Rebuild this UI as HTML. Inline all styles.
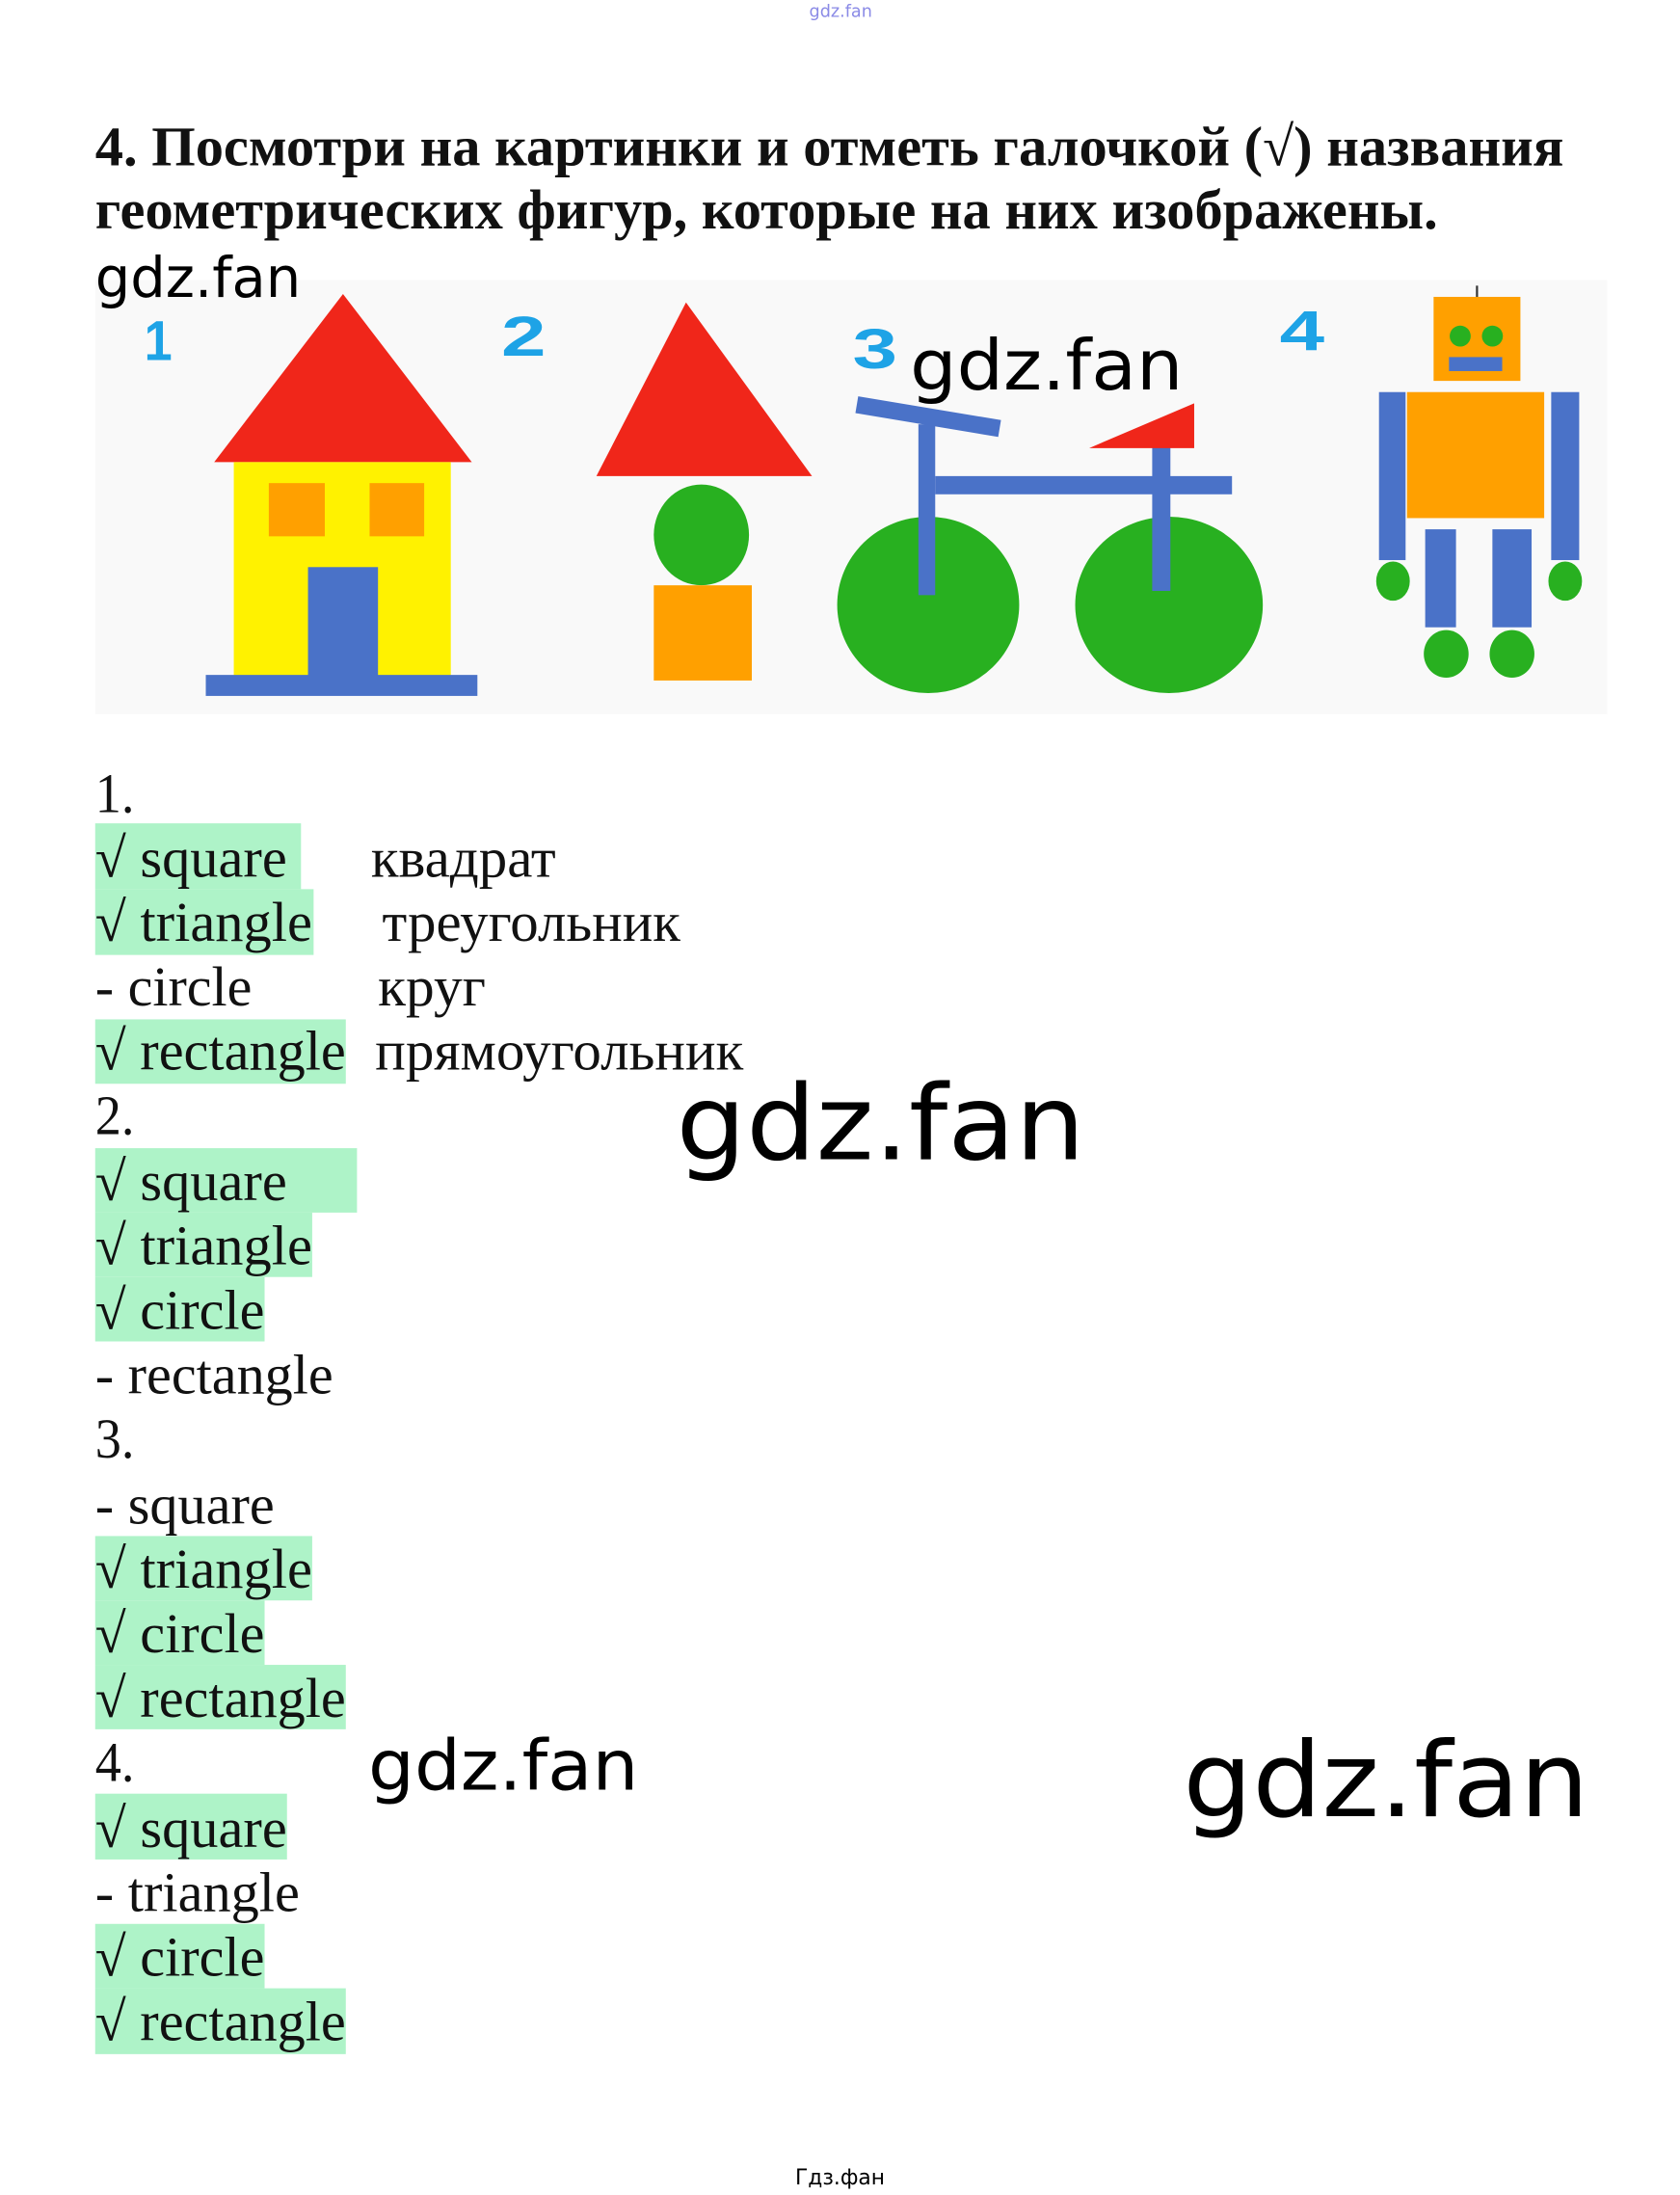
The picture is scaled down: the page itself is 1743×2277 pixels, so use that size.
<!DOCTYPE html>
<html><head><meta charset="utf-8"><style>
html,body{margin:0;padding:0;background:#fff;width:1743px;height:2277px;overflow:hidden}
svg{display:block}
.h{font-family:"Liberation Serif","Noto Serif CJK SC",serif;font-weight:bold;font-size:40px;fill:#111}
.t{font-family:"Liberation Serif","Noto Serif CJK SC",serif;font-size:40px;fill:#111}
.w{font-family:"DejaVu Sans","Liberation Sans",sans-serif;fill:#000}
.n{font-family:"Liberation Sans",sans-serif;font-weight:bold;font-size:40px;fill:#1ea3e6}
</style></head><body>
<svg width="1743" height="2277" viewBox="0 0 1200 1567.6" xmlns="http://www.w3.org/2000/svg">
<text x="578" y="12" class="w" font-size="12" fill="#8a8ae6" style="fill:#8a8ae6" textLength="45" lengthAdjust="spacingAndGlyphs">gdz.fan</text>
<text x="68" y="118" class="h" textLength="1049" lengthAdjust="spacingAndGlyphs">4. Посмотри на картинки и отметь галочкой (√) названия</text>
<text x="68" y="163" class="h" textLength="959" lengthAdjust="spacingAndGlyphs">геометрических фигур, которые на них изображены.</text>

<rect x="68" y="200" width="1080" height="310" fill="#f9f9f9"/>
<!-- house -->
<polygon points="245,210 153,330 337,330" fill="#f0261a"/>
<rect x="167" y="330" width="155" height="153" fill="#fff200"/>
<rect x="192" y="345" width="40" height="38" fill="#ffa000"/>
<rect x="264" y="345" width="39" height="38" fill="#ffa000"/>
<rect x="220" y="405" width="50" height="78" fill="#4a72c8"/>
<rect x="147" y="482" width="194" height="15" fill="#4a72c8"/>
<text x="103" y="257" class="n" textLength="20" lengthAdjust="spacingAndGlyphs">1</text>
<!-- fig 2 -->
<polygon points="490,216 426,340 580,340" fill="#f0261a"/>
<ellipse cx="501" cy="382" rx="34" ry="36" fill="#28b020"/>
<rect x="467" y="418" width="70" height="68" fill="#ffa000"/>
<text x="358" y="254" class="n" textLength="32" lengthAdjust="spacingAndGlyphs">2</text>
<!-- bike -->
<ellipse cx="663" cy="432" rx="65" ry="63" fill="#28b020"/>
<ellipse cx="835" cy="432" rx="67" ry="63" fill="#28b020"/>
<polygon points="613,283 715,300 713,312 611,295" fill="#4a72c8"/>
<rect x="656" y="303" width="12" height="122" fill="#4a72c8"/>
<rect x="668" y="340" width="212" height="13" fill="#4a72c8"/>
<rect x="823" y="318" width="13" height="104" fill="#4a72c8"/>
<polygon points="778,320 853,288 853,320" fill="#f0261a"/>
<text x="609" y="263" class="n" textLength="32" lengthAdjust="spacingAndGlyphs">3</text>
<!-- robot -->
<text x="914" y="250" class="n" textLength="32" lengthAdjust="spacingAndGlyphs">4</text>
<line x1="1055" y1="204" x2="1055" y2="213" stroke="#333" stroke-width="1.5"/>
<rect x="1024" y="212" width="62" height="60" fill="#ffa000"/>
<circle cx="1043" cy="240" r="7.5" fill="#28b020"/>
<circle cx="1066" cy="240" r="7.5" fill="#28b020"/>
<rect x="1035" y="255" width="38" height="10" fill="#4a72c8"/>
<rect x="1005" y="280" width="98" height="90" fill="#ffa000"/>
<rect x="985" y="280" width="19" height="120" fill="#4a72c8"/>
<rect x="1108" y="280" width="20" height="120" fill="#4a72c8"/>
<ellipse cx="995" cy="415" rx="12" ry="14" fill="#28b020"/>
<ellipse cx="1118" cy="415" rx="12" ry="14" fill="#28b020"/>
<rect x="1018" y="378" width="22" height="70" fill="#4a72c8"/>
<rect x="1066" y="378" width="28" height="70" fill="#4a72c8"/>
<ellipse cx="1033" cy="467" rx="16" ry="17" fill="#28b020"/>
<ellipse cx="1080" cy="467" rx="16" ry="17" fill="#28b020"/>

<text x="68" y="212" class="w" font-size="40" textLength="147" lengthAdjust="spacingAndGlyphs">gdz.fan</text>
<text x="650" y="278" class="w" font-size="50" textLength="195" lengthAdjust="spacingAndGlyphs">gdz.fan</text>

<!-- highlights -->
<g fill="#aef3c8">
<rect x="68" y="588" width="147" height="47"/>
<rect x="68" y="635" width="156" height="47"/>
<rect x="68" y="728" width="179" height="46"/>
<rect x="68" y="820" width="187" height="46"/>
<rect x="68" y="866" width="155" height="46"/>
<rect x="68" y="912" width="121" height="46"/>
<rect x="68" y="1097" width="155" height="46"/>
<rect x="68" y="1143" width="121" height="46"/>
<rect x="68" y="1189" width="179" height="46"/>
<rect x="68" y="1281" width="137" height="47"/>
<rect x="68" y="1374" width="121" height="46"/>
<rect x="68" y="1420" width="179" height="47"/>
</g>
<g class="t">
<text x="68" y="580" textLength="28" lengthAdjust="spacingAndGlyphs">1.</text>
<text x="68" y="626" textLength="137" lengthAdjust="spacingAndGlyphs">√ square</text>
<text x="68" y="672" textLength="155" lengthAdjust="spacingAndGlyphs">√ triangle</text>
<text x="68" y="718" textLength="112" lengthAdjust="spacingAndGlyphs">- circle</text>
<text x="68" y="764" textLength="179" lengthAdjust="spacingAndGlyphs">√ rectangle</text>
<text x="265" y="626" textLength="132" lengthAdjust="spacingAndGlyphs">квадрат</text>
<text x="273" y="672" textLength="213" lengthAdjust="spacingAndGlyphs">треугольник</text>
<text x="270" y="718" textLength="77" lengthAdjust="spacingAndGlyphs">круг</text>
<text x="268" y="764" textLength="263" lengthAdjust="spacingAndGlyphs">прямоугольник</text>
<text x="68" y="810" textLength="28" lengthAdjust="spacingAndGlyphs">2.</text>
<text x="68" y="857" textLength="137" lengthAdjust="spacingAndGlyphs">√ square</text>
<text x="68" y="903" textLength="155" lengthAdjust="spacingAndGlyphs">√ triangle</text>
<text x="68" y="949" textLength="121" lengthAdjust="spacingAndGlyphs">√ circle</text>
<text x="68" y="995" textLength="170" lengthAdjust="spacingAndGlyphs">- rectangle</text>
<text x="68" y="1041" textLength="28" lengthAdjust="spacingAndGlyphs">3.</text>
<text x="68" y="1088" textLength="128" lengthAdjust="spacingAndGlyphs">- square</text>
<text x="68" y="1134" textLength="155" lengthAdjust="spacingAndGlyphs">√ triangle</text>
<text x="68" y="1180" textLength="121" lengthAdjust="spacingAndGlyphs">√ circle</text>
<text x="68" y="1226" textLength="179" lengthAdjust="spacingAndGlyphs">√ rectangle</text>
<text x="68" y="1272" textLength="28" lengthAdjust="spacingAndGlyphs">4.</text>
<text x="68" y="1319" textLength="137" lengthAdjust="spacingAndGlyphs">√ square</text>
<text x="68" y="1365" textLength="146" lengthAdjust="spacingAndGlyphs">- triangle</text>
<text x="68" y="1411" textLength="121" lengthAdjust="spacingAndGlyphs">√ circle</text>
<text x="68" y="1457" textLength="179" lengthAdjust="spacingAndGlyphs">√ rectangle</text>
</g>

<text x="483" y="828" class="w" font-size="74" textLength="292" lengthAdjust="spacingAndGlyphs">gdz.fan</text>
<text x="263" y="1278" class="w" font-size="50" textLength="193" lengthAdjust="spacingAndGlyphs">gdz.fan</text>
<text x="845" y="1297" class="w" font-size="74" textLength="290" lengthAdjust="spacingAndGlyphs">gdz.fan</text>
<text x="600" y="1560" class="w" font-size="15" text-anchor="middle">Гдз.фан</text>
</svg>
</body></html>
